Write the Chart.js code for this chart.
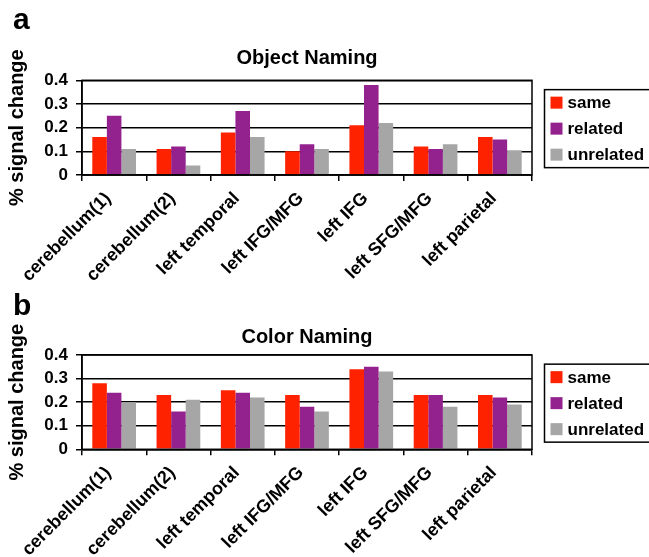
<!DOCTYPE html>
<html><head><meta charset="utf-8">
<script src="https://cdn.jsdelivr.net/npm/chart.js@4"></script>
<style>
html,body{margin:0;padding:0;background:#fff;}
#wrap{position:relative;width:649px;height:557px;overflow:hidden;font-family:"Liberation Sans",Arial,sans-serif;}
canvas{position:absolute;left:0;}
.lbl{position:absolute;left:13px;font-weight:bold;font-size:30px;line-height:30px;color:#000;}
</style></head><body>
<div id="wrap">
<canvas id="ca" width="649" height="312" style="top:0px"></canvas>
<canvas id="cb" width="649" height="277" style="top:280px"></canvas>
<div class="lbl" style="top:4px">a</div>
<div class="lbl" style="top:290px">b</div>
</div>
<script>
const categories = ['cerebellum(1)','cerebellum(2)','left temporal','left IFG/MFG','left IFG','left SFG/MFG','left parietal'];
const seriesNames = ['same','related','unrelated'];
const seriesColors = ['#FF2200','#93228F','#A6A6A6'];
const objectSame      = [0.16,0.11,0.18,0.10,0.21,0.12,0.16];
const objectRelated   = [0.25,0.12,0.27,0.13,0.38,0.11,0.15];
const objectUnrelated = [0.11,0.04,0.16,0.11,0.22,0.13,0.105];
const colorSame       = [0.28,0.23,0.25,0.23,0.34,0.23,0.23];
const colorRelated    = [0.24,0.16,0.24,0.18,0.35,0.23,0.22];
const colorUnrelated  = [0.20,0.21,0.22,0.16,0.33,0.18,0.19];
const yTicks = [0,0.1,0.2,0.3,0.4];

const FONT = '"Liberation Sans", Arial, sans-serif';

const framePlugin = {
  id:'frame',
  afterDatasetsDraw(chart){
    const a = chart.chartArea, ctx = chart.ctx;
    ctx.save();
    ctx.strokeStyle = '#000'; ctx.lineWidth = 1.5;
    ctx.strokeRect(a.left, a.top, a.right - a.left, a.bottom - a.top);
    ctx.restore();
  }
};

const legendPlugin = {
  id:'legendBox',
  afterDraw(chart, args, o){
    const ctx = chart.ctx, a = chart.chartArea;
    const cy = (a.top + a.bottom)/2 + 1;
    ctx.save();
    ctx.strokeStyle = '#000'; ctx.lineWidth = 1.5;
    ctx.strokeRect(o.left, cy - o.h/2, o.w, o.h);
    ctx.font = 'bold 17px ' + FONT;
    ctx.textBaseline = 'middle'; ctx.textAlign = 'left';
    chart.data.datasets.forEach((d,i)=>{
      const y = cy + (i-1)*o.gap;
      ctx.fillStyle = d.backgroundColor;
      ctx.fillRect(o.left + 6, y - 6, 12, 12);
      ctx.fillStyle = '#000';
      ctx.fillText(d.label, o.left + 23, y + 1);
    });
    ctx.restore();
  }
};

function makeChart(id, title, series, titlePad, axisHeight){
  return new Chart(document.getElementById(id), {
    type:'bar',
    data:{
      labels: categories,
      datasets: series.map((vals,i)=>({
        label: seriesNames[i],
        data: vals,
        backgroundColor: seriesColors[i],
        borderWidth: 0,
        barPercentage: 1.0,
        categoryPercentage: 0.68
      }))
    },
    options:{
      responsive:false,
      animation:false,
      devicePixelRatio:1,
      layout:{padding:{left:0,right:117,top:0,bottom:0}},
      plugins:{
        legend:{display:false},
        tooltip:{enabled:false},
        title:{
          display:true, text:title, color:'#000', fullSize:false,
          font:{family:FONT, size:20, weight:'bold'},
          padding:titlePad
        },
        legendBox:{left:544.5, w:110, h:78, gap:26}
      },
      scales:{
        x:{
          grid:{offset:true, drawOnChartArea:false, drawTicks:true, tickLength:6, color:'#000', tickColor:'#000', lineWidth:1.5},
          border:{display:true, color:'#000', width:1.5},
          ticks:{color:'#000', font:{family:FONT, size:18, weight:'bold'}, maxRotation:45, minRotation:45, autoSkip:false, padding:7, labelOffset:-6},
          afterFit(s){ s.height = axisHeight; }
        },
        y:{
          min:0, max:0.4,
          afterBuildTicks(s){ s.ticks = yTicks.map(v=>({value:v})); },
          grid:{color:'#000', tickColor:'#000', lineWidth:1.5, tickLength:6, drawTicks:true},
          border:{display:true, color:'#000', width:1.5},
          ticks:{color:'#000', font:{family:FONT, size:17, weight:'bold'}, padding:8, callback:v=>String(v)},
          title:{display:true, text:'% signal change', color:'#000', font:{family:FONT, size:20, weight:'bold'}, padding:{top:5,bottom:0}},
          afterFit(s){ s.width = 82; }
        }
      }
    },
    plugins:[framePlugin, legendPlugin]
  });
}

makeChart('ca', 'Object Naming', [objectSame, objectRelated, objectUnrelated], {top:46.7, bottom:9.6}, 137);
makeChart('cb', 'Color Naming', [colorSame, colorRelated, colorUnrelated], {top:45, bottom:6}, 107.7);
</script>
</body></html>
